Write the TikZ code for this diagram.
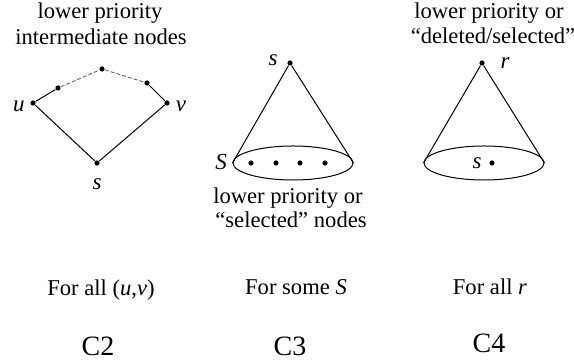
\documentclass[tikz,border=0pt]{standalone}
\usepackage{fontspec}
\setmainfont{Liberation Serif}
\usetikzlibrary{shapes.geometric}

\tikzset{
  dot/.style={circle, fill, inner sep=0pt, minimum size=2.6pt},
  txt/.style={inner sep=0pt, anchor=base, font=\fontsize{11.3}{13}\selectfont},
  var/.style={inner sep=0pt, font=\fontsize{11.5}{13}\selectfont\itshape},
  base/.style={draw, ellipse, inner sep=0pt, minimum width=60pt, minimum height=17pt},
  caption/.style={inner sep=0pt, anchor=base, font=\fontsize{14}{16}\selectfont},
}

\begin{document}
\begin{tikzpicture}[x=0.5pt, y=-0.5pt, line width=0.5pt]
\useasboundingbox (0,0) rectangle (574,362);

% --- C2: path from u to v ---
\node[txt] (c2a) at (100,19) {lower priority};
\node[txt] (c2b) at (101,45) {intermediate nodes};

\node[dot] (u) at (33,103) {};
\node[dot] (p1) at (58,88) {};
\node[dot] (p2) at (102,69) {};
\node[dot] (p3) at (147,83) {};
\node[dot] (v) at (167,103) {};
\node[dot] (s2) at (97,163) {};

\draw (u) -- (p1);
\draw (p3) -- (v);
\draw (u) -- (s2) -- (v);
\draw[dashed, dash pattern=on 2pt off 1pt, gray!70!black, line width=0.4pt] (p1) -- (p2) -- (p3);

\node[var] (lu) at (19,106) {u};
\node[var] (lv) at (181,106) {v};
\node[var] (ls2) at (97,184) {s};

% --- C3: cone from s to S ---
\node[dot] (s3) at (290,63) {};
\node[base] (S3) at (293,163) {};
\draw (S3.west) -- (s3) -- (S3.east);
\foreach \x [count=\i] in {251,276,300,325}{
  \node[dot] (q\i) at (\x,163) {};
}
\node[var] (ls3) at (273,60) {s};
\node[var] (lS3) at (221,162) {S};

\node[txt] (c3a) at (288,204) {lower priority or};
\node[txt] (c3b) at (291,228) {“selected” nodes};

% --- C4: cone from r ---
\node[txt] (c4a) at (489,19) {lower priority or};
\node[txt] (c4b) at (493,44) {“deleted/selected”};

\node[dot] (r) at (482,63) {};
\node[base] (S4) at (484,163) {};
\draw (S4.west) -- (r) -- (S4.east);
\node[dot] (s4) at (492,163) {};
\node[var] (lr) at (505,63) {r};
\node[var] (ls4) at (477,163) {s};

% --- Conditions ---
\node[txt] (f2) at (101,296) {For all (\textit{u},\textit{v})};
\node[txt] (f3) at (296,295) {For some \textit{S}};
\node[txt] (f4) at (490,295) {For all \textit{r}};

\node[caption] (k2) at (98,356) {C2};
\node[caption] (k3) at (290,356) {C3};
\node[caption] (k4) at (489,353) {C4};

\end{tikzpicture}
\end{document}
